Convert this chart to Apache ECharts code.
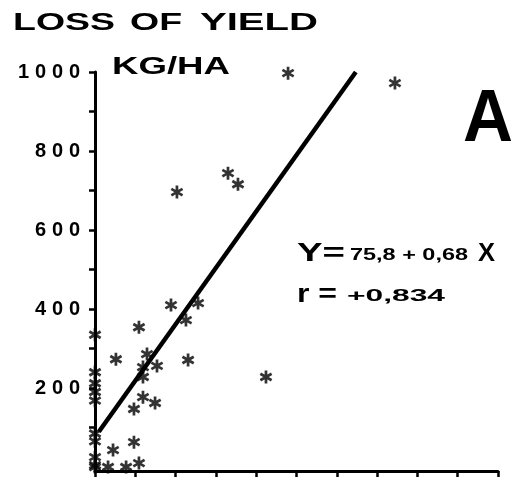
<!DOCTYPE html>
<html>
<head>
<meta charset="utf-8">
<script src="https://cdn.jsdelivr.net/npm/echarts@6/dist/echarts.min.js"></script>
<style>
  html, body { margin: 0; padding: 0; background: #fff; }
  #chart { width: 530px; height: 478px; }
</style>
</head>
<body>
<div id="chart"></div>
<script>
// Observations: loss of yield (kg/ha) against X
const pointsX = [0, 0, 0, 0, 0, 0, 0, 0, 0, 0,
  1006, 1563, 427, 693, 745, 891, 396, 537, 474, 229,
  109, 271, 250, 323, 250, 485, 250, 313, 203, 203,
  94, 68, 162, 229];
const pointsY = [335, 240, 212, 190, 168, 85, 65, 25, 5, 0,
  997, 972, 696, 744, 716, 228, 410, 415, 372, 354,
  273, 286, 253, 256, 228, 271, 177, 162, 147, 63,
  43, 0, 0, 10];

// Regression Y = a + b X
const intercept = 75.8;
const slope = 0.68;
const lineFromX = 20;
const lineToY = 1000;

// Axis ticks and labels
const yTickValues = [100, 200, 300, 400, 500, 600, 700, 800, 900, 1000];
const yLabelValues = [200, 400, 600, 800, 1000];

// Asterisk marker: three crossed bars
function asteriskPath() {
  const parts = [];
  [90, 30, 150].forEach(function (a) {
    const r = a * Math.PI / 180, c = Math.cos(r), s = Math.sin(r);
    const L = 10, W = 2.1;
    const pts = [[-L, -W], [L, -W], [L, W], [-L, W]].map(function (p) {
      return [10 + p[0] * c - p[1] * s, 10 + p[0] * s + p[1] * c];
    });
    parts.push('M' + pts.map(function (p) { return p[0].toFixed(2) + ' ' + p[1].toFixed(2); }).join(' L') + ' Z');
  });
  return 'path://' + parts.join(' ');
}

const scatterData = pointsX.map(function (x, i) { return [x, pointsY[i]]; });
const lineToX = (lineToY - intercept) / slope;
const lineData = [[lineFromX, intercept + slope * lineFromX], [lineToX, lineToY]];

const FONT = '"Liberation Sans", Arial, sans-serif';

// Wide-set lettering: text stretched horizontally to span [left, right]
const measureCtx = document.createElement('canvas').getContext('2d');
function wide(text, left, right, cy, size) {
  const font = 'bold ' + size + 'px ' + FONT;
  measureCtx.font = font;
  const w = measureCtx.measureText(text).width;
  return {
    type: 'text', x: left, y: cy, scaleX: (right - left) / w,
    style: { text: text, font: font, fill: '#000', align: 'left', verticalAlign: 'middle' }
  };
}

const chart = echarts.init(document.getElementById('chart'), null, { renderer: 'canvas' });
chart.setOption({
  backgroundColor: '#ffffff',
  animation: false,
  grid: { left: 95, top: 72, width: 403, height: 399 },
  xAxis: {
    type: 'value',
    min: 0,
    max: 2100,
    interval: 210,
    axisLine: { onZero: false, lineStyle: { color: '#000', width: 3 } },
    axisTick: { show: true, length: 6, lineStyle: { color: '#000', width: 2.5 } },
    axisLabel: { show: false },
    splitLine: { show: false }
  },
  yAxis: {
    type: 'value',
    min: -10,
    max: 1000,
    axisLine: { show: true, onZero: false, lineStyle: { color: '#000', width: 3 } },
    axisTick: { show: true, length: 6, customValues: yTickValues, lineStyle: { color: '#000', width: 2.5 } },
    axisLabel: {
      customValues: yLabelValues,
      // each digit in its own fixed-width cell for the wide numerals
      formatter: function (v) {
        return String(v).split('').map(function (c) { return '{d|' + c + '}'; }).join('');
      },
      margin: 12,
      rich: {
        d: { width: 17, align: 'center', color: '#000', fontFamily: FONT, fontWeight: 'bold', fontSize: 20 }
      }
    },
    splitLine: { show: false }
  },
  series: [
    {
      type: 'line',
      data: lineData,
      symbol: 'none',
      lineStyle: { color: '#000', width: 4.5 },
      z: 3
    },
    {
      type: 'scatter',
      data: scatterData,
      symbol: asteriskPath(),
      symbolSize: 13,
      symbolKeepAspect: true,
      itemStyle: { color: '#000' },
      z: 4
    }
  ],
  graphic: [
    wide('LOSS', 13, 115, 23, 24),
    wide('OF', 130, 182, 23, 24),
    wide('YIELD', 200, 318, 23, 24),
    wide('KG/HA', 112, 230, 67, 24),
    wide('A', 463, 513, 121, 74),
    wide('Y=', 297, 345, 254, 25),
    wide('75,8 + 0,68', 350, 468, 255, 17),
    wide('X', 478, 495, 254, 25),
    wide('r =', 297, 337, 295, 25),
    wide('+0,834', 347, 445, 296, 17)
  ]
});
</script>
</body>
</html>
